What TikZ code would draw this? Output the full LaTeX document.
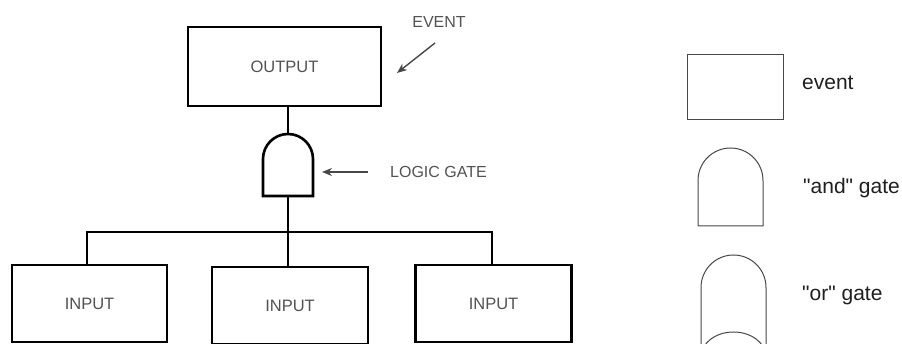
\documentclass[tikz,border=0pt]{standalone}
\usepackage{fontspec}
\setmainfont{Liberation Sans}
\usetikzlibrary{arrows.meta,positioning}

\begin{document}
\begin{tikzpicture}[x=1pt,y=1pt,
    box/.style={draw, line width=2.6pt, inner sep=0pt, minimum width=156pt, minimum height=77pt,
      font=\fontsize{16.5}{19}\selectfont, text=black!68},
    wire/.style={line width=2.6pt},
    lbl/.style={inner sep=0pt, font=\fontsize{16}{19}\selectfont, text=black!68},
    pointer/.style={-{Stealth[length=10pt,width=8pt]}, line width=1.4pt, black!72},
    legline/.style={line width=1pt, black!72},
    legtext/.style={anchor=west, inner sep=0pt, font=\fontsize{21}{25}\selectfont, text=black!88}]

    %% Background
    \useasboundingbox (0,0) rectangle (902,344);
    \clip (0,0) rectangle (902,344);

    %% Events
    \node[box, minimum width=193pt, minimum height=79pt] (output) at (284.5,277.5) {OUTPUT};
    \node[box, minimum width=155pt] (in1) at (89.5,40.5) {INPUT};
    \node[box] (in2) at (290,38.5) {INPUT};
    \node[box] (in3) at (493.5,40.5) {INPUT};

    %% Logic gate
    \coordinate (gatetop) at (288,210);
    \coordinate (gatebot) at (288,148);
    \coordinate (barmid) at (288,112);
    \draw[wire] (263,148) -- (263,185) arc[start angle=180, end angle=0, radius=25] -- (313,148) -- cycle;

    %% Wires
    \draw[wire] (output.south -| gatetop) -- (gatetop);
    \draw[wire] (gatebot) -- (gatebot |- in2.north);
    \draw[wire] (in1.north -| 87,0) |- (barmid) -| (in3.north -| 492,0);

    %% Labels
    \node[lbl] (eventlbl) at (439,322) {EVENT};
    \node[lbl, anchor=west] (gatelbl) at (390,172) {LOGIC GATE};
    \coordinate (eventtail) at (435,301);
    \coordinate (eventtip) at (397,271);
    \coordinate (gatetail) at (368,172);
    \coordinate (gatetip) at (322,172);
    \draw[pointer] (eventtail) -- (eventtip);
    \draw[pointer] (gatetail) -- (gatetip);

    %% Legend
    \draw[legline] (687,224) rectangle (783,289);
    \node[legtext] (legevent) at (802,261) {event};

    \draw[legline] (698,118) -- (698,163.5) arc[start angle=180, end angle=0, radius=32.5] -- (763,118) -- cycle;
    \node[legtext] (legand) at (803,156) {\textquotedbl and\textquotedbl{} gate};

    \draw[legline] (701,-2) -- (701,56.5) arc[start angle=180, end angle=0, radius=32.5] -- (766,-2);
    \draw[legline] (701,-13) arc[start angle=180, end angle=0, x radius=32.5, y radius=25];
    \node[legtext] (legor) at (802,49) {\textquotedbl or\textquotedbl{} gate};

\end{tikzpicture}
\end{document}
